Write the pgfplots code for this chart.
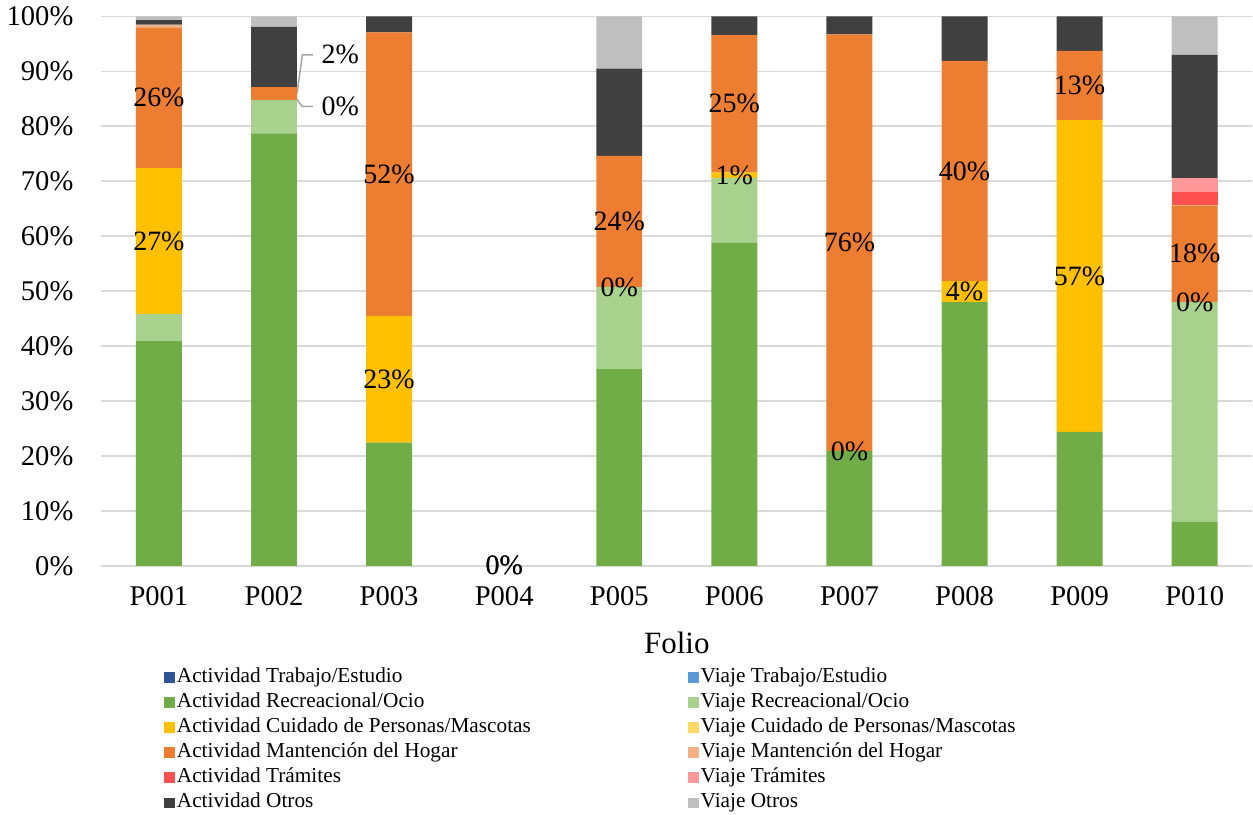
\documentclass[border=0pt]{standalone}
\usepackage{fontspec}
\setmainfont{Liberation Serif}
\usepackage{pgfplots}
\usepackage{pgfplotstable}
\pgfplotsset{compat=1.18}

\definecolor{cActT}{HTML}{2F5597}
\definecolor{cViaT}{HTML}{5B9BD5}
\definecolor{cActR}{HTML}{70AD47}
\definecolor{cViaR}{HTML}{A9D18E}
\definecolor{cActC}{HTML}{FFC000}
\definecolor{cViaC}{HTML}{FFD966}
\definecolor{cActM}{HTML}{ED7D31}
\definecolor{cViaM}{HTML}{F4B183}
\definecolor{cActTr}{HTML}{FF5050}
\definecolor{cViaTr}{HTML}{FF9999}
\definecolor{cActO}{HTML}{404040}
\definecolor{cViaO}{HTML}{BFBFBF}
\definecolor{gridgray}{HTML}{D9D9D9}
\definecolor{leadgray}{HTML}{A6A6A6}

% share of time per folio (%)
\pgfplotstableread{
x actT viaT actR viaR actC viaC actM viaM actTr viaTr actO viaO
0 0 0 40.9  4.9 26.6 0 25.6 0.5 0   0   0.8  0.7
1 0 0 78.7  6.1  0   0  2.3 0   0   0   11.0 1.9
2 0 0 22.4  0   23.1 0 51.6 0   0   0   2.9  0
3 0 0 0     0    0   0  0   0   0   0   0    0
4 0 0 35.8 14.9  0   0 23.9 0   0   0   15.9 9.5
5 0 0 58.8 11.8  1.0 0 25.0 0   0   0   3.4  0
6 0 0 20.9  0    0   0 75.8 0   0   0   3.3  0
7 0 0 48.0  0    3.8 0 40.1 0   0   0   8.1  0
8 0 0 24.4  0   56.7 0 12.6 0   0   0   6.3  0
9 0 0 8.0  40.0  0   0 17.6 0   2.4 2.5 22.5 7.0
}\data

\pgfplotsset{
  frame/.style={width=576pt, height=275pt, scale only axis,
    xmin=-0.5, xmax=9.5, ymin=0, ymax=100,
    /pgf/number format/assume math mode=true},
}

\begin{document}
\begin{tikzpicture}
\begin{axis}[
  frame, clip=false,
  ybar stacked, bar width=23pt,
  xtick={0,...,9},
  xticklabels={P001,P002,P003,P004,P005,P006,P007,P008,P009,P010},
  ytick={0,10,...,100},
  yticklabel={\pgfmathprintnumber{\tick}\%},
  ymajorgrids, grid style={draw=gridgray, line width=0.75pt},
  axis line style={draw=none}, major tick length=0pt,
  tick label style={font=\fontsize{14.3}{16}\selectfont},
  yticklabel style={xshift=-10.5pt},
  xticklabel style={yshift=-7pt},
  xlabel={Folio},
  xlabel style={font=\fontsize{15.5}{18}\selectfont, at={(axis description cs:0.5,-0.14)}, anchor=center},
  legend columns=2, legend cell align=left,
  legend style={at={(axis description cs:0.054,-0.18)}, anchor=north west,
    draw=none, inner sep=0pt, row sep=0.6pt,
    font=\fontsize{10.65}{12}\selectfont,
    nodes={inner sep=1pt, text height=7.5pt, text depth=2.5pt},
    /tikz/column 2/.style={column sep=77.5pt}},
  legend image code/.code={\fill[#1] (0pt,-2.75pt) rectangle (5.5pt,2.75pt);},
]
\addplot[fill=cActT, draw=none] table[x=x, y=actT]{\data};
\addplot[fill=cViaT, draw=none] table[x=x, y=viaT]{\data};
\addplot[fill=cActR, draw=none] table[x=x, y=actR]{\data};
\addplot[fill=cViaR, draw=none] table[x=x, y=viaR]{\data};
\addplot[fill=cActC, draw=none] table[x=x, y=actC]{\data};
\addplot[fill=cViaC, draw=none] table[x=x, y=viaC]{\data};
\addplot[fill=cActM, draw=none] table[x=x, y=actM]{\data};
\addplot[fill=cViaM, draw=none] table[x=x, y=viaM]{\data};
\addplot[fill=cActTr, draw=none] table[x=x, y=actTr]{\data};
\addplot[fill=cViaTr, draw=none] table[x=x, y=viaTr]{\data};
\addplot[fill=cActO, draw=none] table[x=x, y=actO]{\data};
\addplot[fill=cViaO, draw=none] table[x=x, y=viaO]{\data};
\legend{Actividad Trabajo/Estudio, Viaje Trabajo/Estudio,
  Actividad Recreacional/Ocio, Viaje Recreacional/Ocio,
  Actividad Cuidado de Personas/Mascotas, Viaje Cuidado de Personas/Mascotas,
  Actividad Mantención del Hogar, Viaje Mantención del Hogar,
  Actividad Trámites, Viaje Trámites,
  Actividad Otros, Viaje Otros}

% P002 labels with leader lines
\draw[leadgray, line width=0.75pt] (axis cs:1.2,86) -- (axis cs:1.247,93) -- (axis cs:1.337,93);
\draw[leadgray, line width=0.75pt] (axis cs:1.2,84.9) -- (axis cs:1.245,83.6) -- (axis cs:1.337,83.6);
\node[anchor=west, inner sep=0pt, font=\fontsize{14}{16}\selectfont] at (axis cs:1.41,93) {2\%};
\node[anchor=west, inner sep=0pt, font=\fontsize{14}{16}\selectfont] at (axis cs:1.41,83.6) {0\%};
\end{axis}

% value labels in the middle of the Cuidado and Mantencion segments, on top of all bars
\begin{axis}[
  frame, hide axis, clip=false,
  point meta=explicit,
  nodes near coords={\ifnum\coordindex=1\relax\else\pgfmathprintnumber[fixed,precision=0]{\pgfplotspointmeta}\%\fi},
  every node near coord/.style={anchor=center, text=black, font=\fontsize{14}{16}\selectfont},
]
\addplot[draw=none, mark=none] table[x=x, meta=actC,
  y expr=\thisrow{actR}+\thisrow{viaR}+0.5*\thisrow{actC}]{\data};
\addplot[draw=none, mark=none] table[x=x, meta=actM,
  y expr=\thisrow{actR}+\thisrow{viaR}+\thisrow{actC}+\thisrow{viaC}+0.5*\thisrow{actM}]{\data};
\end{axis}
\end{tikzpicture}
\end{document}
